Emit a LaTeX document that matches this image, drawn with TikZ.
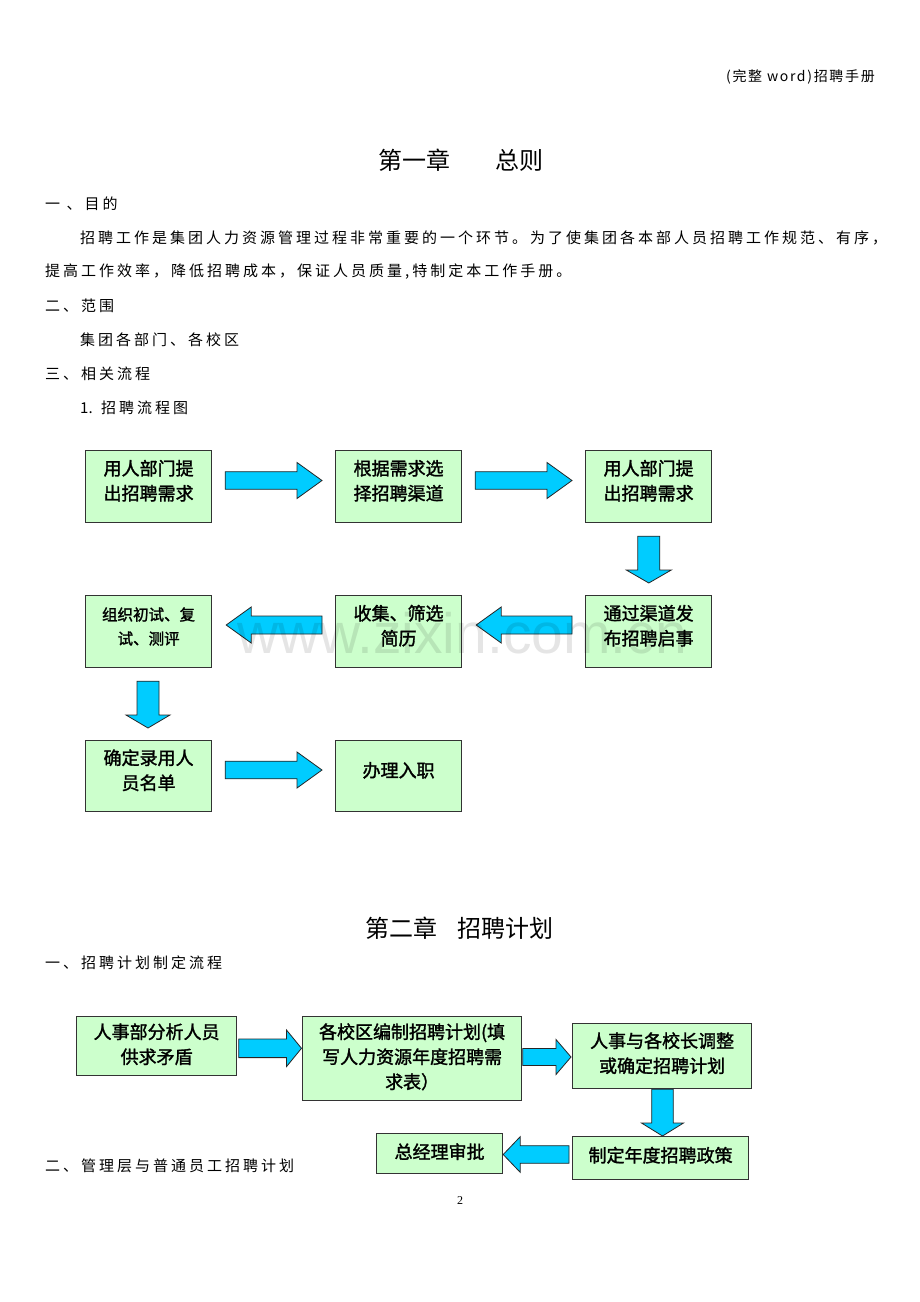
\documentclass[tikz,border=0pt]{standalone}
\usepackage{fontspec}
\setmainfont{Liberation Serif}
\newfontfamily\cn{Noto Sans CJK SC}
\newfontfamily\cnm{Noto Sans CJK SC}[FakeBold=1.6]
\newfontfamily\cnsp{Noto Sans CJK SC}[LetterSpace=20]
\newfontfamily\cnhd{Noto Sans CJK SC}[LetterSpace=12]
\newfontfamily\wmfont{Liberation Sans}
\usetikzlibrary{calc}
\definecolor{boxfill}{HTML}{CCFFCC}
\definecolor{arrowc}{HTML}{00CCFF}
\definecolor{boxline}{HTML}{333333}
\newcommand\lift[2]{\raisebox{#1}[\height][\depth]{\begin{tabular}{@{}c@{}}#2\end{tabular}}}
% block arrows: #1 from node, #2 to node, #3 centre line, #4 gap at start, #5 gap at tip, #6 shaft half, #7 head half, #8 head length
\newcommand\arrR[8]{\path[barrow] let \p1=(#1.east), \p2=(#2.west) in
  (\x1+#4pt,-#3pt+#6pt) -- (\x2-#5pt-#8pt,-#3pt+#6pt) -- (\x2-#5pt-#8pt,-#3pt+#7pt) -- (\x2-#5pt,-#3pt)
  -- (\x2-#5pt-#8pt,-#3pt-#7pt) -- (\x2-#5pt-#8pt,-#3pt-#6pt) -- (\x1+#4pt,-#3pt-#6pt) -- cycle;}
\newcommand\arrL[8]{\path[barrow] let \p1=(#1.west), \p2=(#2.east) in
  (\x1-#4pt,-#3pt+#6pt) -- (\x2+#5pt+#8pt,-#3pt+#6pt) -- (\x2+#5pt+#8pt,-#3pt+#7pt) -- (\x2+#5pt,-#3pt)
  -- (\x2+#5pt+#8pt,-#3pt-#7pt) -- (\x2+#5pt+#8pt,-#3pt-#6pt) -- (\x1-#4pt,-#3pt-#6pt) -- cycle;}
\newcommand\arrD[8]{\path[barrow] let \p1=(#1.south), \p2=(#2.north) in
  (#3pt-#6pt,\y1-#4pt) -- (#3pt-#6pt,\y2+#5pt+#8pt) -- (#3pt-#7pt,\y2+#5pt+#8pt) -- (#3pt,\y2+#5pt)
  -- (#3pt+#7pt,\y2+#5pt+#8pt) -- (#3pt+#6pt,\y2+#5pt+#8pt) -- (#3pt+#6pt,\y1-#4pt) -- cycle;}
\begin{document}
\begin{tikzpicture}[x=1pt,y=-1pt,
  box/.style={draw=boxline, fill=boxfill, line width=1.2pt, inner sep=0pt, anchor=north west,
    font=\cnm\fontsize{18}{25}\selectfont},
  barrow/.style={fill=arrowc, draw=black!85, line width=0.8pt, line join=miter},
  body/.style={anchor=west, inner sep=0pt, font=\cnsp\fontsize{15}{18}\selectfont},
  title/.style={anchor=west, inner sep=0pt, font=\cn\fontsize{24}{24}\selectfont}]
\useasboundingbox[fill=white] (0,0) rectangle (920,1302);

% header and texts
\node[anchor=east, inner sep=0pt, font=\cnhd\fontsize{14}{14}\selectfont] (hdr) at (875,77) {(完整 word)招聘手册};
\node[title] (t1) at (378,160) {第一章\hspace{45pt}总则};
\node[body] (l1) at (45,204) {一 、目的};
\node[body] (l2) at (80,238) {招聘工作是集团人力资源管理过程非常重要的一个环节。为了使集团各本部人员招聘工作规范、有序，};
\node[body] (l3) at (45,272) {提高工作效率，降低招聘成本，保证人员质量,特制定本工作手册。};
\node[body] (l4) at (45,306) {二、范围};
\node[body] (l5) at (80,340) {集团各部门、各校区};
\node[body] (l6) at (45,374) {三、相关流程};
\node[body] (l7) at (80,408) {{\cn 1.} 招聘流程图};

% flow chart 1
\node[box, minimum width=126pt, minimum height=72pt] (b1) at (85,450) {\lift{4pt}{用人部门提\\出招聘需求}};
\node[box, minimum width=126pt, minimum height=72pt] (b2) at (335,450) {\lift{4pt}{根据需求选\\择招聘渠道}};
\node[box, minimum width=126pt, minimum height=72pt] (b3) at (585,450) {\lift{4pt}{用人部门提\\出招聘需求}};
\node[box, minimum width=126pt, minimum height=72pt] (b4) at (585,595) {\lift{4pt}{通过渠道发\\布招聘启事}};
\node[box, minimum width=126pt, minimum height=72pt] (b5) at (335,595) {\lift{4pt}{收集、筛选\\简历}};
\node[box, minimum width=126pt, minimum height=72pt, font=\cnm\fontsize{15.5}{24}\selectfont] (b6) at (85,595) {\lift{4pt}{组织初试、复\\试、测评}};
\node[box, minimum width=126pt, minimum height=71pt] (b7) at (85,740) {\lift{4pt}{确定录用人\\员名单}};
\node[box, minimum width=126pt, minimum height=71pt] (b8) at (335,740) {\lift{4pt}{办理入职}};

\arrR{b1}{b2}{480.5}{13}{13}{8.8}{18}{25}
\arrR{b2}{b3}{480.5}{13}{13}{8.8}{18}{25}
\arrD{b3}{b4}{648.8}{13}{12}{11}{22.5}{13}
\arrL{b4}{b5}{625}{13}{14}{9}{18}{25}
\arrL{b5}{b6}{625}{13}{14}{9}{18}{25}
\arrD{b6}{b7}{148}{13}{12}{11}{22}{13}
\arrR{b7}{b8}{770}{13}{13}{8.8}{18}{25}

\node[text=black, opacity=0.10, inner sep=0pt, font=\wmfont\fontsize{57}{57}\selectfont] (wm) at (462,633) {www.zixin.com.cn};

% chapter 2
\node[title] (t2) at (365,928) {第二章\hspace{20pt}招聘计划};
\node[body] (l8) at (45,963) {一、招聘计划制定流程};

\node[box, minimum width=160pt, minimum height=59pt] (c1) at (76,1016) {\lift{0pt}{人事部分析人员\\供求矛盾}};
\node[box, minimum width=219pt, minimum height=84pt] (c2) at (302,1016) {\lift{0pt}{各校区编制招聘计划(填\\写人力资源年度招聘需\\求表）}};
\node[box, minimum width=179pt, minimum height=65pt] (c3) at (572,1023) {\lift{1pt}{人事与各校长调整\\或确定招聘计划}};
\node[box, minimum width=176pt, minimum height=43pt] (c4) at (572,1136) {\lift{1pt}{制定年度招聘政策}};
\node[box, minimum width=126pt, minimum height=40pt] (c5) at (376,1133) {\lift{0pt}{总经理审批}};

\arrR{c1}{c2}{1048.3}{1.5}{0.5}{9.3}{18.3}{15}
\arrR{c2}{c3}{1057}{0.5}{1}{8.5}{17.5}{15}
\arrD{c3}{c4}{662.5}{0}{0}{10.8}{21}{13}
\arrL{c4}{c5}{1154.5}{3}{0}{8.8}{17.8}{17}

\node[body] (l9) at (45,1166) {二、管理层与普通员工招聘计划};
\node[inner sep=0pt, font=\fontsize{12}{12}\selectfont] (pg) at (460,1201) {2};
\end{tikzpicture}
\end{document}
